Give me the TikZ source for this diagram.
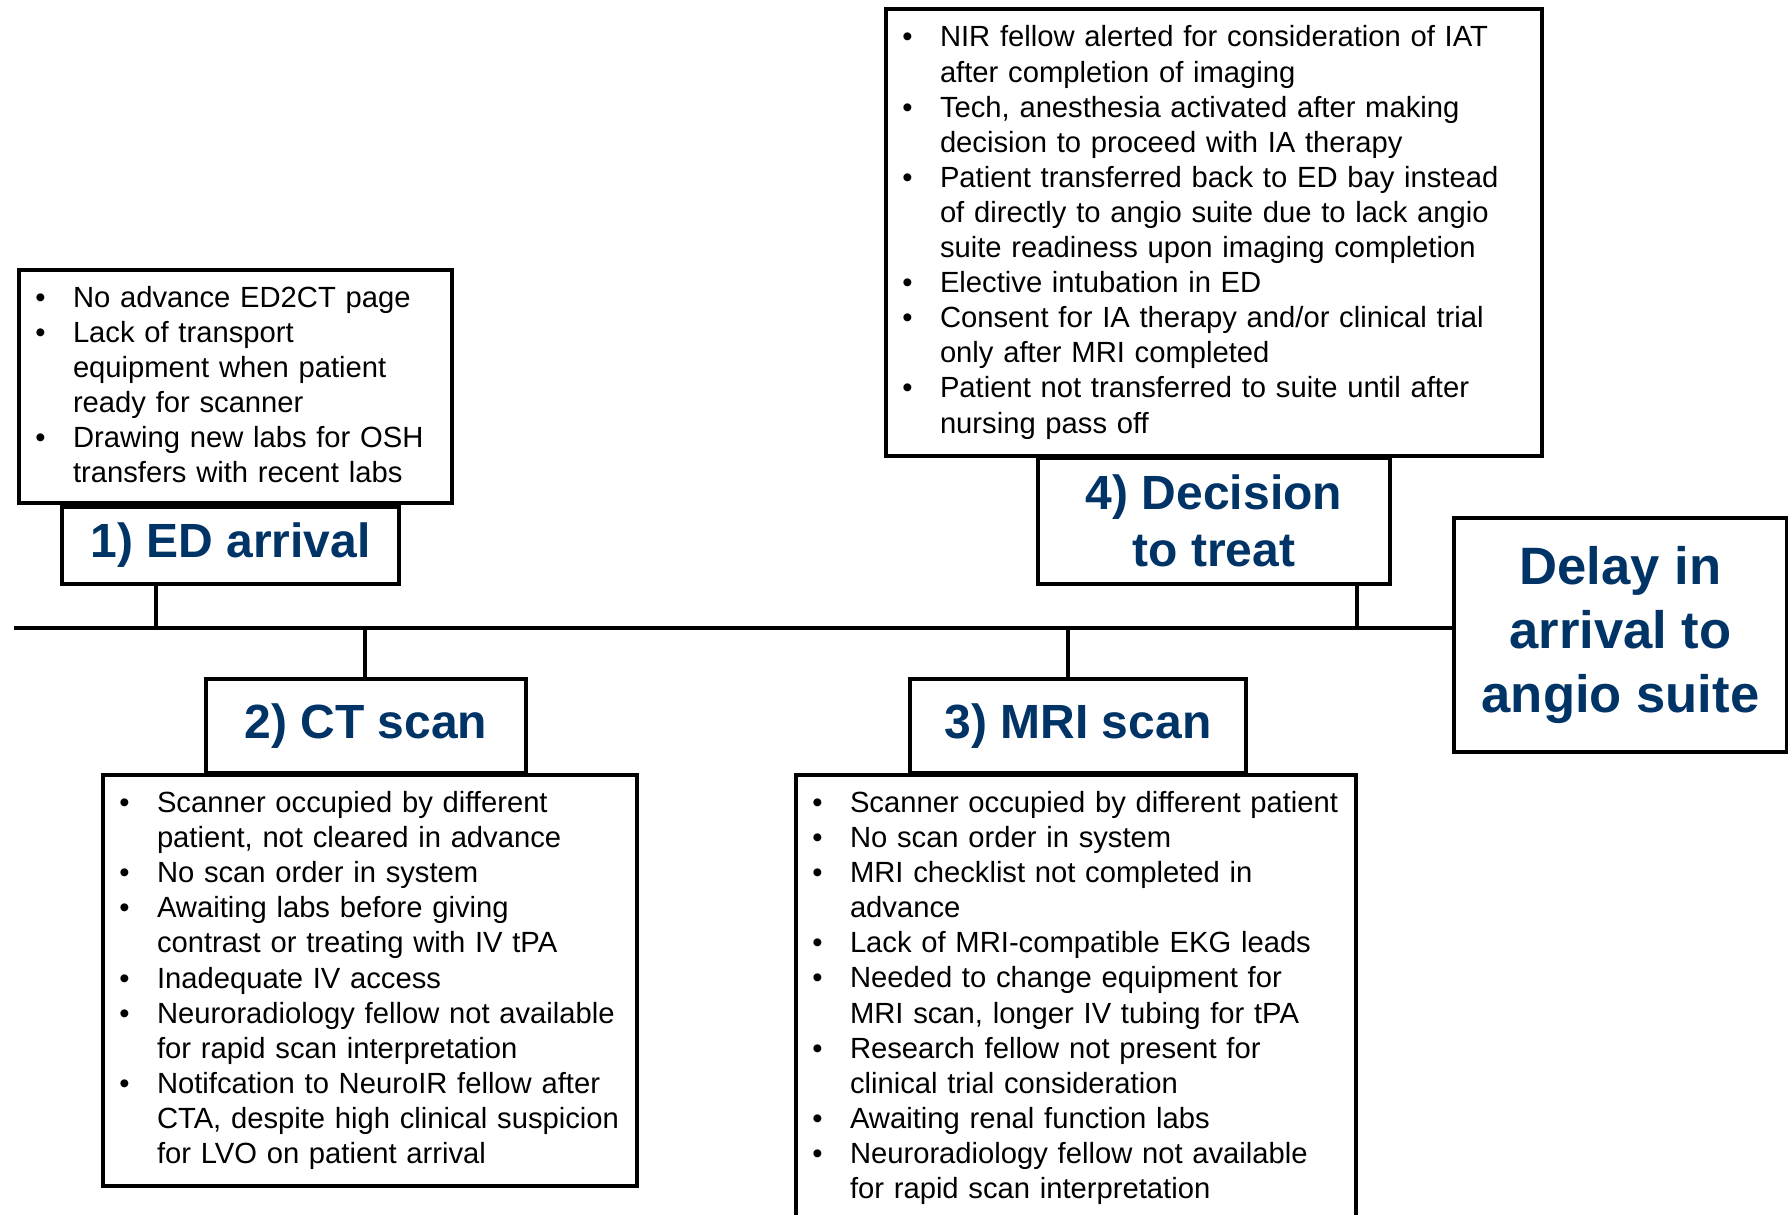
\documentclass[tikz,border=0pt]{standalone}
\usepackage{fontspec}
\setmainfont{Liberation Sans}
\definecolor{TitleBlue}{HTML}{003366}
\usetikzlibrary{positioning}
\newenvironment{causelist}{%
  \begin{list}{\textbullet}{%
    \setlength{\leftmargin}{27pt}\setlength{\labelwidth}{6pt}%
    \setlength{\labelsep}{13.7pt}\setlength{\itemsep}{0pt}%
    \setlength{\parsep}{0pt}\setlength{\topsep}{0pt}%
    \setlength{\partopsep}{0pt}\setlength{\itemindent}{0pt}%
    \setlength{\rightmargin}{0pt}\setlength{\listparindent}{0pt}}}%
  {\end{list}}
% extra room under a list, lifts the centred text
\newcommand{\boxgap}[1]{\par\vspace{#1}\nointerlineskip\hbox{}}
\tikzset{
  causeBox/.style={draw, line width=2pt, fill=white, inner sep=0pt, anchor=north west, align=left, font=\fontsize{14.6}{17.55}\selectfont},
  stageBox/.style={draw, line width=2pt, fill=white, inner sep=0pt, anchor=north west, align=center, text=TitleBlue, font=\fontsize{24}{28.5}\selectfont\bfseries},
  effectBox/.style={draw, line width=2pt, fill=white, inner sep=0pt, anchor=north west, align=center, text=TitleBlue, font=\fontsize{26.3}{32}\selectfont\bfseries},
  spine/.style={draw, line width=2pt}
}
\begin{document}
\begin{tikzpicture}[x=0.5pt,y=-0.5pt]
  \useasboundingbox (0,0) rectangle (1788,1215);

  % effect
  \node[effectBox, minimum width=166.5pt, minimum height=117pt] (delay) at (1452,516)
    {Delay in\\arrival to\\angio suite};

  % spine and joints
  \coordinate (spineL) at (14,628);
  \coordinate (edJoint) at (156,628);
  \coordinate (ctJoint) at (365,628);
  \coordinate (mriJoint) at (1068,628);
  \coordinate (decJoint) at (1357,628);

  % 1) ED arrival
  \node[causeBox, text width=216.5pt, minimum height=116.5pt] (edText) at (17,268) {%
    \begin{causelist}
      \item No advance ED2CT page
      \item Lack of transport\newline equipment when patient\newline ready for scanner
      \item Drawing new labs for OSH\newline transfers with recent labs
    \end{causelist}\boxgap{9pt}};
  \node[stageBox, minimum width=168.5pt, minimum height=38.5pt] (edLabel) at (60,505) {1) ED arrival};

  % 2) CT scan
  \node[stageBox, minimum width=160pt, minimum height=47pt] (ctLabel) at (204,677) {2) CT scan};
  \node[causeBox, text width=267pt, minimum height=205.5pt] (ctText) at (101,773) {%
    \begin{causelist}
      \item Scanner occupied by different\newline patient, not cleared in advance
      \item No scan order in system
      \item Awaiting labs before giving\newline contrast or treating with IV tPA
      \item Inadequate IV access
      \item Neuroradiology fellow not available\newline for rapid scan interpretation
      \item Notifcation to NeuroIR fellow after\newline CTA, despite high clinical suspicion\newline for LVO on patient arrival
    \end{causelist}\boxgap{7pt}};

  % 3) MRI scan
  \node[stageBox, minimum width=168pt, minimum height=47pt] (mriLabel) at (908,677) {3) MRI scan};
  \node[causeBox, text width=280pt, minimum height=223pt] (mriText) at (794,773) {%
    \begin{causelist}
      \item Scanner occupied by different patient
      \item No scan order in system
      \item MRI checklist not completed in\newline advance
      \item Lack of MRI-compatible EKG leads
      \item Needed to change equipment for\newline MRI scan, longer IV tubing for tPA
      \item Research fellow not present for\newline clinical trial consideration
      \item Awaiting renal function labs
      \item Neuroradiology fellow not available\newline for rapid scan interpretation
    \end{causelist}\boxgap{7pt}};

  % 4) Decision to treat
  \node[causeBox, text width=328pt, minimum height=223.5pt] (decText) at (884,7) {%
    \begin{causelist}
      \item NIR fellow alerted for consideration of IAT\newline after completion of imaging
      \item Tech, anesthesia activated after making\newline decision to proceed with IA therapy
      \item Patient transferred back to ED bay instead\newline of directly to angio suite due to lack angio\newline suite readiness upon imaging completion
      \item Elective intubation in ED
      \item Consent for IA therapy and/or clinical trial\newline only after MRI completed
      \item Patient not transferred to suite until after\newline nursing pass off
    \end{causelist}\boxgap{7pt}};
  \node[stageBox, minimum width=176pt, minimum height=63pt] (decLabel) at (1036,456) {4) Decision\\to treat};

  \draw[spine] (spineL) -- (spineL -| delay.west);
  \draw[spine] (edJoint) -- (edJoint |- edLabel.south);
  \draw[spine] (ctJoint) -- (ctJoint |- ctLabel.north);
  \draw[spine] (mriJoint) -- (mriJoint |- mriLabel.north);
  \draw[spine] (decJoint) -- (decJoint |- decLabel.south);
\end{tikzpicture}
\end{document}
